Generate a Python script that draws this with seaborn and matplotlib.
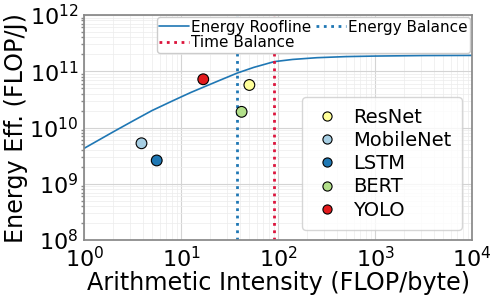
import numpy as np
import pandas as pd
import matplotlib
matplotlib.use("Agg")
import matplotlib.pyplot as plt
import seaborn as sns

# roofline curve
roof_intensity = [1, 2, 3.16, 5, 7.9, 10, 12.6, 17.8, 25, 38, 56, 91, 141, 251, 500, 1000, 3160, 10000]
roof_eff = [4.27e9, 8.4e9, 1.3e10, 2.0e10, 2.9e10, 3.5e10, 4.2e10, 5.4e10, 6.9e10, 9.3e10,
            1.17e11, 1.48e11, 1.62e11, 1.74e11, 1.82e11, 1.86e11, 1.9e11, 1.91e11]

# balance points
energy_balance = 37.6
time_balance = 91

# models
models = ["ResNet", "MobileNet", "LSTM", "BERT", "YOLO"]
model_intensity = [50.5, 3.9, 5.6, 42, 16.9]
model_eff = [5.7e10, 5.25e9, 2.6e9, 1.9e10, 7.2e10]
model_colors = ["#ffff99", "#a6cee3", "#1f78b4", "#b2df8a", "#e31a1c"]

sns.set_theme(style="whitegrid")
plt.rcParams['font.family'] = ['DejaVu Sans']
plt.rcParams.update({"text.color": "black", "axes.labelcolor": "black",
                     "xtick.color": "black", "ytick.color": "black"})

fig, ax = plt.subplots(figsize=(4.98, 2.99), dpi=100)
fig.subplots_adjust(left=0.169, right=0.948, bottom=0.197, top=0.95)

roof = pd.DataFrame({"I": roof_intensity, "E": roof_eff})
sns.lineplot(data=roof, x="I", y="E", color="#1f77b4", lw=1.2, ax=ax)
l1 = ax.lines[-1]
l2 = ax.axvline(energy_balance, color="#1f77b4", ls=":", lw=2)
l3 = ax.axvline(time_balance, color="crimson", ls=":", lw=2)

df = pd.DataFrame({"model": models, "I": model_intensity, "E": model_eff})
sns.scatterplot(data=df, x="I", y="E", hue="model", hue_order=models,
                palette=dict(zip(models, model_colors)), s=60,
                edgecolor="black", linewidth=0.8, ax=ax, zorder=5)

ax.set_xscale("log")
ax.set_yscale("log")
ax.set_xlim(1, 1e4)
ax.set_ylim(1e8, 1e12)
ax.grid(True, which="major", color="#d4d4d4", lw=0.8)
ax.grid(True, which="minor", color="#ececec", lw=0.5)
ax.tick_params(axis="both", which="major", labelsize=16, length=3, pad=1)
ax.tick_params(axis="y", which="minor", left=True, length=2, color="#888888")
for sp in ax.spines.values():
    sp.set_color("#888888")

ax.set_xlabel("Arithmetic Intensity (FLOP/byte)", fontsize=17.2, labelpad=0)
ax.set_ylabel("Energy Eff. (FLOP/J)", fontsize=17.2, labelpad=1)

h, lab = ax.get_legend_handles_labels()
mh = [x for x, t in zip(h, lab) if t in models]
ml = [t for t in lab if t in models]
leg2 = ax.legend(mh, ml, loc="lower right", fontsize=14, handletextpad=0.6,
                 labelspacing=0.22, borderpad=0.55, handlelength=1.5, markerscale=0.85,
                 borderaxespad=0.5)
ax.add_artist(leg2)
ax.legend([l1, l3, l2], ["Energy Roofline", "Time Balance", "Energy Balance"], loc="upper right",
          ncol=2, fontsize=11, handlelength=2.0, handletextpad=0.1,
          columnspacing=0.3, borderpad=0.15, labelspacing=0.05, borderaxespad=0.15,
          framealpha=1)

fig.savefig("out.png", dpi=100)
